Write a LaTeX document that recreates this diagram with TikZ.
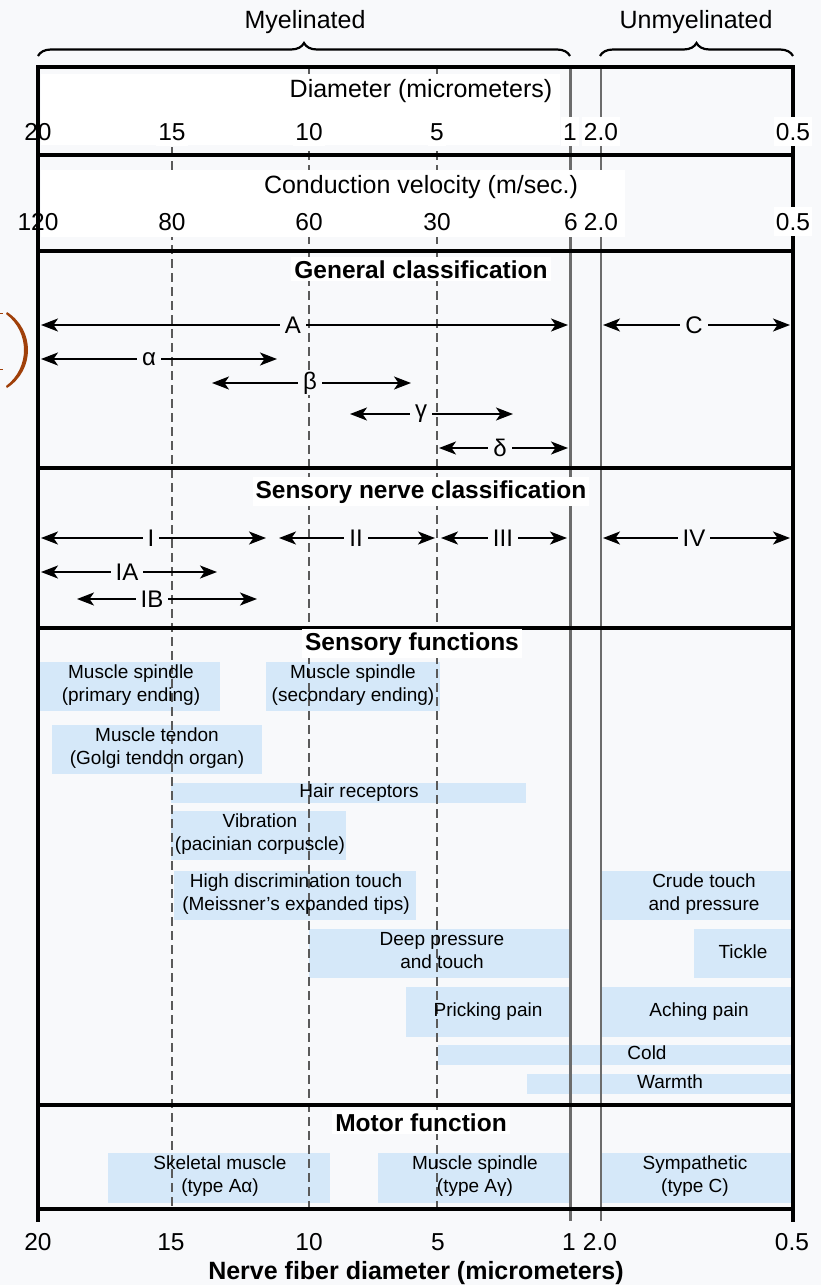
\documentclass[tikz,border=0pt]{standalone}
\usepackage{fontspec}
\setmainfont{Liberation Sans}
\usetikzlibrary{arrows.meta,decorations.pathreplacing}
\definecolor{bg}{RGB}{248,249,251}
\definecolor{boxblue}{RGB}{213,232,249}
\definecolor{dgray}{RGB}{90,90,90}
\definecolor{sgray}{RGB}{108,108,108}
\definecolor{brownp}{RGB}{160,64,10}
\newcommand\fs[2]{\fontsize{#1}{#2}\selectfont}
\newcommand\bluebox[4]{\fill[boxblue] (#1,#3) rectangle (#2,#4);}
\newcommand\arrowrow[6]{\coordinate (#1s) at (#3,#2); \coordinate (#1e) at (#4,#2);
  \draw[arr] (#1s) -- node[albl,pos=#6] (#1l) {#5} (#1e);}
\begin{document}
\begin{tikzpicture}[x=1pt,y=-1pt,
  frame/.style={line width=3.2pt, black},
  dashv/.style={line width=2.3pt, dgray, dash pattern=on 9pt off 5pt},
  solidv/.style={line width=2.4pt, sgray},
  num/.style={font=\fs{24.5}{29}, anchor=base, inner xsep=2pt, inner ysep=6pt, fill=white},
  lnum/.style={num, fill=none},
  bnum/.style={font=\fs{24.5}{29}, anchor=base, inner sep=1pt},
  ttl/.style={font=\fs{25}{30}, anchor=base, inner sep=1pt},
  sect/.style={font=\bfseries\fs{24.5}{29}, anchor=base, fill=white, inner xsep=3pt, inner ysep=3pt},
  arr/.style={line width=2pt, {Stealth[length=17pt,width=13pt,inset=4.5pt]}-{Stealth[length=17pt,width=13pt,inset=4.5pt]}},
  albl/.style={font=\fs{24}{29}, fill=bg, inner xsep=5pt, inner ysep=1pt},
  blbl/.style={font=\fs{19}{23}, align=center, execute at begin node=\strut, execute at end node=\strut, inner sep=0pt},
  brc/.style={line width=2.2pt, decorate, decoration={brace, amplitude=13pt}},
]
% background
\fill[bg] (0,0) rectangle (821,1285);
\useasboundingbox (0,0) rectangle (821,1285);

% blue boxes
\bluebox{39}{220}{662}{711}
\bluebox{266}{440}{662}{711}
\bluebox{52}{262}{725}{774}
\bluebox{171}{526}{783}{803}
\bluebox{171}{346}{811}{860}
\bluebox{174}{416}{871}{920}
\bluebox{602}{792}{871}{920}
\bluebox{309}{569}{929}{978}
\bluebox{694}{792}{929}{978}
\bluebox{406}{569}{987}{1037}
\bluebox{602}{792}{987}{1037}
\bluebox{438}{792}{1045}{1065}
\bluebox{527}{792}{1074}{1094}
\bluebox{108}{330}{1153}{1203}
\bluebox{378}{569}{1153}{1203}
\bluebox{602}{792}{1153}{1203}

% vertical guide lines
\draw[dashv] (172,147) -- (172,1209);
\draw[dashv] (309,67) -- (309,1209);
\draw[dashv] (437,67) -- (437,1209);
\draw[solidv] (570.5,67) -- (570.5,1221);
\draw[solidv] (601,67) -- (601,1221);

% white label areas in the header bands
\fill[white] (41,74) rectangle (560,145);
\fill[white] (41,170) rectangle (625,237);

% frame
\foreach \yy in {67,155,251,468,628,1105,1209}
  \draw[frame] (38,\yy) -- (793,\yy);
\draw[frame] (38,65.4) -- (38,1222);
\draw[frame] (793,65.4) -- (793,1222);

% braces
\draw[brc] (38,56) -- (570,56);
\draw[brc] (600,56) -- (793,56);
\node[ttl] (myel) at (305,28) {Myelinated};
\node[ttl] (unmyel) at (696,28) {Unmyelinated};

% header titles
\node[ttl] (diam) at (421,97) {Diameter (micrometers)};
\node[ttl] (velo) at (421,193) {Conduction velocity (m/sec.)};

% diameter numbers
\node[lnum] (d20) at (38,140) {20};
\node[num] (d15) at (172,140) {15};
\node[num] (d10) at (309,140) {10};
\node[num] (d5) at (437,140) {5};
\node[num] (d1) at (570,140) {1};
\node[num] (d2) at (601,140) {2.0};
\node[num] (d05) at (793,140) {0.5};

% velocity numbers
\node[lnum] (v120) at (38,230) {120};
\node[num] (v80) at (172,230) {80};
\node[num] (v60) at (309,230) {60};
\node[num] (v30) at (437,230) {30};
\node[num] (v6) at (571,230) {6};
\node[num] (v2) at (601,230) {2.0};
\node[num] (v05) at (793,230) {0.5};

% section titles
\node[sect] (gen) at (421,278) {General classification};
\node[sect] (sens) at (421,498) {Sensory nerve classification};
\node[sect] (sfun) at (412,650) {Sensory functions};
\node[sect] (mfun) at (421,1131) {Motor function};

% general classification arrows
\arrowrow{aA}{325}{41}{568}{A}{0.478}
\arrowrow{aC}{325}{603}{790}{C}{0.487}
\arrowrow{aal}{359}{41}{277}{α}{0.458}
\arrowrow{abe}{383}{212}{411}{β}{0.492}
\arrowrow{aga}{414}{350}{513}{γ}{0.436}
\arrowrow{ade}{448}{439}{568}{δ}{0.473}

% sensory nerve classification arrows
\arrowrow{aI}{538}{41}{266}{I}{0.489}
\arrowrow{aII}{538}{279}{435}{II}{0.494}
\arrowrow{aIII}{538}{441}{567}{III}{0.492}
\arrowrow{aIV}{538}{603}{790}{IV}{0.487}
\arrowrow{aIA}{572}{41}{217}{IA}{0.489}
\arrowrow{aIB}{599}{77}{257}{IB}{0.417}

% box labels
\node[blbl] (t1) at (131,686.5) {Muscle spindle\\(primary ending)};
\node[blbl] (t2) at (353,686.5) {Muscle spindle\\(secondary ending)};
\node[blbl] (t3) at (157,749.5) {Muscle tendon\\(Golgi tendon organ)};
\node[blbl] (t4) at (359,793) {Hair receptors};
\node[blbl] (t5) at (260,835.5) {Vibration\\(pacinian corpuscle)};
\node[blbl] (t6) at (296,895.5) {High discrimination touch\\(Meissner's expanded tips)};
\node[blbl] (t7) at (704,895.5) {Crude touch\\and pressure};
\node[blbl] (t8) at (442,953.5) {Deep pressure\\and touch};
\node[blbl] (t9) at (743,953.5) {Tickle};
\node[blbl] (t10) at (488,1012) {Pricking pain};
\node[blbl] (t11) at (699,1012) {Aching pain};
\node[blbl] (t12) at (647,1055) {Cold};
\node[blbl] (t13) at (670,1084) {Warmth};
\node[blbl] (t14) at (220,1178) {Skeletal muscle\\(type Aα)};
\node[blbl] (t15) at (475,1178) {Muscle spindle\\(type Aγ)};
\node[blbl] (t16) at (695,1178) {Sympathetic\\(type C)};

% bottom axis
\node[bnum] (b20) at (38,1250) {20};
\node[bnum] (b15) at (171,1250) {15};
\node[bnum] (b10) at (309,1250) {10};
\node[bnum] (b5) at (438,1250) {5};
\node[bnum] (b1) at (569,1250) {1};
\node[bnum] (b2) at (600,1250) {2.0};
\node[bnum] (b05) at (792,1250) {0.5};
\node[font=\bfseries\fs{25}{30}, anchor=base, inner sep=1pt] (axis) at (416,1279) {Nerve fiber diameter (micrometers)};

% brown parenthesis at the left edge
\fill[brownp] (7,312) .. controls (35,330) and (35,370) .. (7,388)
  -- (6,386) .. controls (30,368) and (30,332) .. (6,314) -- cycle;
\draw[brownp, line width=1pt] (0,313) -- (3,313);
\draw[brownp, line width=1pt] (0,369) -- (3,369);
\end{tikzpicture}
\end{document}
